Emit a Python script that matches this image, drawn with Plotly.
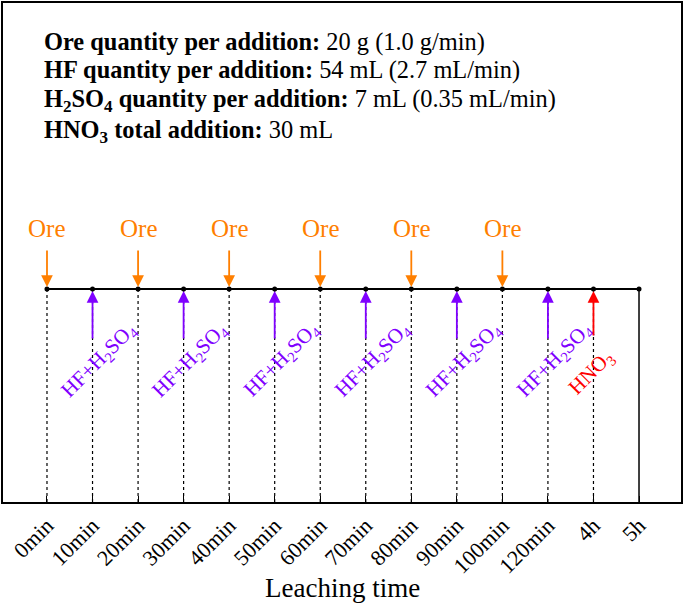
import plotly.graph_objects as go

# ---- data ----
tick_labels = ["0min", "10min", "20min", "30min", "40min", "50min", "60min",
               "70min", "80min", "90min", "100min", "120min", "4h", "5h"]
ore_idx = [0, 2, 4, 6, 8, 10]
acid_idx = [1, 3, 5, 7, 9, 11]
hno3_idx = [12]
info_bold = ["Ore quantity per addition:", "HF quantity per addition:",
             "H<sub>2</sub>SO<sub>4</sub> quantity per addition:",
             "HNO<sub>3</sub> total addition:"]
info_plain = ["20 g (1.0 g/min)", "54 mL (2.7 mL/min)",
              "7 mL (0.35 mL/min)", "30 mL"]

FONT = "Liberation Serif, Times New Roman, serif"
ORANGE = "#FF7F00"
PURPLE = "#7F00FF"
RED = "#FF0000"

n = len(tick_labels)
xs = list(range(n))
TL = 213          # timeline level
ORE_TOP = 253
ACID_BOT = 162

fig = go.Figure()

# dashed verticals
dx, dy = [], []
for i in xs[:-1]:
    dx += [i, i, None]
    dy += [0, TL, None]
fig.add_trace(go.Scatter(x=dx, y=dy, mode="lines",
                         line=dict(color="black", width=1.2, dash="3px,3px"),
                         hoverinfo="skip", showlegend=False))
# final solid vertical
fig.add_trace(go.Scatter(x=[xs[-1], xs[-1]], y=[0, TL], mode="lines",
                         line=dict(color="black", width=1.5),
                         hoverinfo="skip", showlegend=False))
# timeline
fig.add_trace(go.Scatter(x=xs, y=[TL] * n, mode="lines+markers",
                         line=dict(color="black", width=1.8),
                         marker=dict(color="black", size=5),
                         hoverinfo="skip", showlegend=False))

ann = []
for i in ore_idx:
    ann.append(dict(x=i, y=TL, ax=i, ay=ORE_TOP, xref="x", yref="y",
                    axref="x", ayref="y", showarrow=True, arrowhead=2,
                    arrowsize=1.3, arrowwidth=1.8, arrowcolor=ORANGE,
                    standoff=2, text=""))
    ann.append(dict(x=i, y=274, xref="x", yref="y", showarrow=False,
                    text="Ore", font=dict(family=FONT, size=25, color=ORANGE)))
for i in acid_idx:
    ann.append(dict(x=i, y=TL, ax=i, ay=ACID_BOT, xref="x", yref="y",
                    axref="x", ayref="y", showarrow=True, arrowhead=2,
                    arrowsize=1.3, arrowwidth=1.8, arrowcolor=PURPLE,
                    standoff=2, text=""))
    ann.append(dict(x=i + 0.15, y=142, xref="x", yref="y", showarrow=False,
                    textangle=-45, text="HF+H<sub>2</sub>SO<sub>4</sub>",
                    font=dict(family=FONT, size=21, color=PURPLE)))
for i in hno3_idx:
    ann.append(dict(x=i, y=TL, ax=i, ay=ACID_BOT + 3, xref="x", yref="y",
                    axref="x", ayref="y", showarrow=True, arrowhead=2,
                    arrowsize=1.3, arrowwidth=1.8, arrowcolor=RED,
                    standoff=2, text=""))
    ann.append(dict(x=i - 0.05, y=129, xref="x", yref="y", showarrow=False,
                    textangle=-45, text="HNO<sub>3</sub>",
                    font=dict(family=FONT, size=21, color=RED)))

info_y = [460, 432, 402, 371]
for b, p, yy in zip(info_bold, info_plain, info_y):
    ann.append(dict(x=0.0575, y=yy, xref="paper", yref="y", xanchor="left",
                    yanchor="middle", showarrow=False,
                    text=f"<b>{b}</b> {p}",
                    font=dict(family=FONT, size=24.4, color="black")))

ann.append(dict(x=0.5, y=0, xref="paper", yref="paper", yanchor="middle",
                yshift=-86, showarrow=False, text="Leaching time",
                font=dict(family=FONT, size=27, color="black")))

fig.update_layout(
    width=685, height=605,
    margin=dict(l=3, r=4, t=3, b=103),
    paper_bgcolor="white", plot_bgcolor="white",
    annotations=ann,
    xaxis=dict(range=[-0.966, 13.922], tickmode="array", tickvals=xs,
               ticktext=tick_labels, tickangle=-45, ticks="inside",
               ticklen=6, tickwidth=1.2, tickcolor="black",
               showline=True, linecolor="black", linewidth=2, mirror=True,
               showgrid=False, zeroline=False, automargin=False,
               tickfont=dict(family=FONT, size=22, color="black")),
    yaxis=dict(range=[0, 499], showticklabels=False, ticks="",
               showline=True, linecolor="black", linewidth=2, mirror=True,
               showgrid=False, zeroline=False, automargin=False),
)

fig.write_html("out.html",
               config={"displayModeBar": False},
               post_script="document.body.style.margin='0px';")
